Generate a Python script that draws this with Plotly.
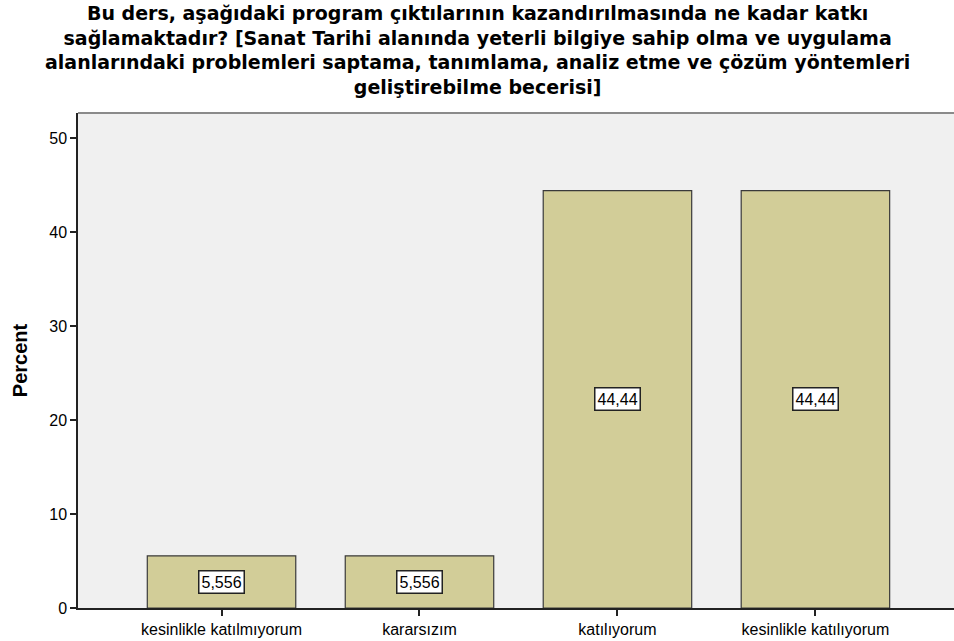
import plotly.graph_objects as go

categories = ["kesinlikle katılmıyorum", "kararsızım", "katılıyorum", "kesinlikle katılıyorum"]
percent = [5.556, 5.556, 44.44, 44.44]
y_ticks = [0, 10, 20, 30, 40, 50]

title_lines = [
    "Bu ders, aşağıdaki program çıktılarının kazandırılmasında ne kadar katkı",
    "sağlamaktadır? [Sanat Tarihi alanında yeterli bilgiye sahip olma ve uygulama",
    "alanlarındaki problemleri saptama, tanımlama, analiz etme ve çözüm yöntemleri",
    "geliştirebilme becerisi]",
]

FONT = "Liberation Sans, Arial, sans-serif"

fig = go.Figure(go.Bar(
    x=categories,
    y=percent,
    width=0.75,
    marker=dict(color="#D2CD98", line=dict(color="#3a3a3a", width=1.2)),
    hoverinfo="skip",
))

# value boxes in the middle of each bar
for cat, val in zip(categories, percent):
    fig.add_annotation(
        x=cat, y=val / 2, text=f"{val:g}".replace(".", ","),
        showarrow=False, bgcolor="white", bordercolor="#222", borderwidth=1.5,
        borderpad=2, font=dict(family=FONT, size=16, color="black"),
    )

# multi-line title as one centred annotation (wider face to match the original's width)
fig.add_annotation(
    xref="paper", yref="paper", x=0.456, y=1.128,
    xanchor="center", yanchor="middle", align="center",
    text="<b>" + "<br>".join(title_lines) + "</b>",
    showarrow=False, font=dict(family="DejaVu Sans, sans-serif", size=19, color="black"),
)

# grey top frame of the plot area
fig.add_shape(type="line", xref="paper", yref="paper", x0=0, x1=1, y0=1, y1=1,
              line=dict(color="#8a8a8a", width=2))

fig.update_layout(
    width=954, height=641,
    paper_bgcolor="white", plot_bgcolor="#F0F0F0",
    margin=dict(l=78, r=0, t=113, b=33),
    showlegend=False,
    font=dict(family=FONT, size=16, color="black"),
)
fig.update_xaxes(
    range=[-0.725, 3.7], showgrid=False, zeroline=False,
    showline=True, linecolor="#222", linewidth=1.5,
    ticks="outside", ticklen=6, tickcolor="#222", tickwidth=1.5,
    tickfont=dict(family=FONT, size=16, color="black"),
)
fig.update_yaxes(
    range=[0, 52.7], tickvals=y_ticks, showgrid=False, zeroline=False,
    showline=True, linecolor="#222", linewidth=1.5,
    ticks="outside", ticklen=6, tickcolor="#222", tickwidth=1.5,
    tickfont=dict(family=FONT, size=16, color="black"),
    title=dict(text="<b>Percent</b>", font=dict(family=FONT, size=20, color="black"), standoff=16),
)

fig.write_html("out.html", config={"displayModeBar": False},
               post_script="document.body.style.margin='0';")
